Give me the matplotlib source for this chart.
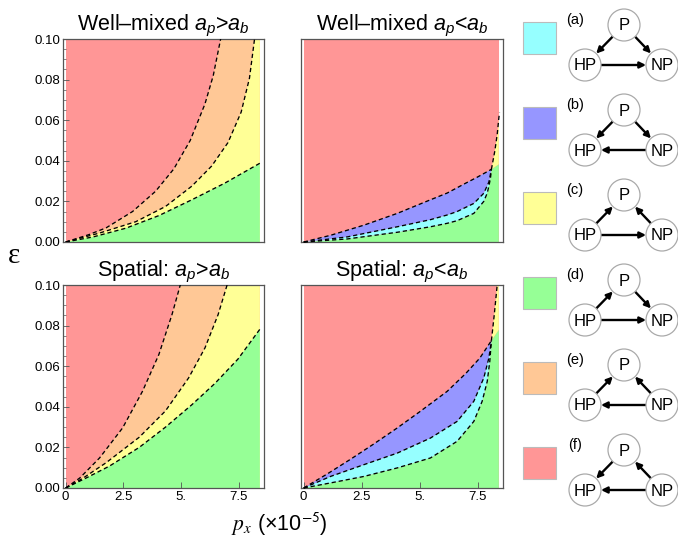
import matplotlib
matplotlib.use('Agg')
import matplotlib.pyplot as plt
import numpy as np
from matplotlib.patches import Rectangle, Circle, FancyArrowPatch, Polygon

plt.rcParams['font.family'] = ['Liberation Sans', 'DejaVu Sans']
plt.rcParams['mathtext.fontset'] = 'custom'
plt.rcParams['mathtext.it'] = 'Liberation Sans:italic'
plt.rcParams['mathtext.rm'] = 'Liberation Sans'
plt.rcParams['mathtext.sf'] = 'Liberation Sans'

# ---------------- data ----------------
PX_MAX = 8.42      # right end of the computed region (x 1e-5)
EPS_MAX = 0.10

colors = {
    'a': '#96FFFF',   # cyan
    'b': '#9696FF',   # blue
    'c': '#FFFF96',   # yellow
    'd': '#96FF96',   # green
    'e': '#FFC896',   # orange
    'f': '#FF9696',   # red
}

titles = ['Well–mixed $a_p$>$a_b$', 'Well–mixed $a_p$<$a_b$',
          'Spatial: $a_p$>$a_b$', 'Spatial: $a_p$<$a_b$']

xticks = [0, 2.5, 5, 7.5]
xticklabels = ['0', '2.5', '5.', '7.5']
yticks = [0.0, 0.02, 0.04, 0.06, 0.08, 0.10]
yticklabels = ['0.00', '0.02', '0.04', '0.06', '0.08', '0.10']

# Well-mixed a_p > a_b : boundaries f|e, e|c, c|d
wm_gt_A_x = [0, 1.0, 1.76, 2.9, 3.9, 4.69, 5.4, 6.04, 6.4, 6.72]
wm_gt_A_y = [0, 0.0036, 0.0070, 0.0150, 0.0250, 0.0360, 0.0500, 0.0680, 0.0820, 0.100]
wm_gt_B_x = [0, 1.5, 3.04, 4.33, 5.47, 6.33, 7.04, 7.61, 7.97, 8.19]
wm_gt_B_y = [0, 0.0045, 0.0100, 0.0175, 0.0275, 0.0374, 0.0490, 0.0640, 0.0807, 0.100]
wm_gt_C_x = [0, 1.19, 2.61, 4.04, 5.47, 6.9, 8.42]
wm_gt_C_y = [0, 0.0025, 0.0068, 0.0130, 0.0208, 0.0290, 0.0388]

# Spatial a_p > a_b
sp_gt_A_x = [0, 0.61, 1.47, 2.47, 3.33, 4.04, 4.61, 4.97]
sp_gt_A_y = [0, 0.0049, 0.0148, 0.0296, 0.0476, 0.0657, 0.0854, 0.100]
sp_gt_B_x = [0, 0.76, 1.76, 3.19, 4.33, 5.33, 6.04, 6.61, 7.0]
sp_gt_B_y = [0, 0.0049, 0.0125, 0.0250, 0.0380, 0.0542, 0.0690, 0.0854, 0.100]
sp_gt_C_x = [0, 0.9, 1.9, 3.19, 4.33, 5.47, 6.47, 7.47, 8.42]
sp_gt_C_y = [0, 0.0050, 0.0108, 0.0200, 0.0300, 0.0410, 0.0515, 0.0635, 0.0782]

# Well-mixed a_p < a_b : upper (f|b), middle (b|a), lower (a|d), steep (f|c), right edge of d
wm_lt_U_x = [0, 1.16, 2.6, 4.04, 5.47, 6.19, 6.91, 7.5, 8.10]
wm_lt_U_y = [0, 0.0033, 0.0083, 0.0141, 0.0208, 0.0241, 0.0285, 0.0320, 0.0358]
wm_lt_M_x = [0, 1.88, 4.04, 5.47, 6.19, 6.62, 7.34, 7.77, 7.99, 8.10]
wm_lt_M_y = [0, 0.0025, 0.0075, 0.0110, 0.0133, 0.0150, 0.0190, 0.0240, 0.0295, 0.0358]
wm_lt_L_x = [0, 1.88, 4.04, 5.47, 6.19, 6.62, 7.34, 7.77, 7.92, 7.99, 8.06, 8.10]
wm_lt_L_y = [0, 0.0015, 0.0048, 0.0075, 0.0092, 0.0105, 0.0141, 0.0200, 0.0241,
             0.0275, 0.0315, 0.0358]
wm_lt_S_x = [8.10, 8.25, 8.35, 8.42, 8.45]
wm_lt_S_y = [0.0358, 0.0450, 0.0530, 0.0610, 0.0637]
wm_lt_edge_y = 0.0383

# Spatial a_p < a_b
sp_lt_U_x = [0, 1.0, 2.0, 3.0, 4.04, 5.0, 6.19, 7.0, 7.6, 8.10]
sp_lt_U_y = [0, 0.0068, 0.0140, 0.0215, 0.0296, 0.0375, 0.0476, 0.0565, 0.0640, 0.0726]
sp_lt_M_x = [0, 1.16, 2.6, 4.04, 5.47, 6.62, 7.34, 7.77, 7.99, 8.10]
sp_lt_M_y = [0, 0.0057, 0.0115, 0.0172, 0.0246, 0.0328, 0.0427, 0.0542, 0.0640, 0.0726]
sp_lt_L_x = [0, 1.16, 2.6, 4.04, 5.47, 6.62, 7.34, 7.70, 7.92, 8.03, 8.10]
sp_lt_L_y = [0, 0.0025, 0.0057, 0.0099, 0.0148, 0.0230, 0.0328, 0.0427, 0.0525,
             0.0624, 0.0726]
sp_lt_S_x = [8.10, 8.22, 8.35]
sp_lt_S_y = [0.0726, 0.0850, 0.1000]
sp_lt_edge_y = 0.0780

# legend diagrams: arrows between nodes P, HP, NP
legend_keys = ['a', 'b', 'c', 'd', 'e', 'f']
legend_edges = {
    'a': [('P', 'HP'), ('P', 'NP'), ('HP', 'NP')],
    'b': [('P', 'HP'), ('P', 'NP'), ('NP', 'HP')],
    'c': [('HP', 'P'), ('NP', 'P'), ('HP', 'NP')],
    'd': [('HP', 'P'), ('P', 'NP'), ('HP', 'NP')],
    'e': [('HP', 'P'), ('NP', 'P'), ('NP', 'HP')],
    'f': [('P', 'HP'), ('NP', 'P'), ('NP', 'HP')],
}

# ---------------- layout ----------------
W, H = 678, 538
fig = plt.figure(figsize=(W / 100, H / 100), dpi=100)


def rect(l, t, r, b):
    return [l / W, 1 - b / H, (r - l) / W, (b - t) / H]


axes_rects = [rect(63, 39, 264, 242), rect(301, 39, 503, 242),
              rect(63, 285, 264, 488), rect(301, 285, 503, 488)]
axs = [fig.add_axes(r) for r in axes_rects]

dash = (0, (3.2, 2.2))
LW = 0.95


def style(ax, i):
    ax.set_xlim(-0.115, 8.6)
    ax.set_ylim(0, EPS_MAX)
    for s in ax.spines.values():
        s.set_color('#555555')
        s.set_linewidth(0.9)
    ax.set_title(titles[i], fontsize=15.5, pad=4)
    ax.tick_params(direction='in', length=4, width=0.6, color='#555555',
                   labelsize=9.5, pad=2)
    ax.tick_params(which='minor', direction='in', length=2, width=0.5, color='#555555')
    if i in (0, 2):
        ax.set_yticks(yticks)
        ax.set_yticklabels(yticklabels)
        ax.set_yticks(np.arange(0, 0.1001, 0.005), minor=True)
    else:
        ax.set_yticks([])
        ax.set_yticks([], minor=True)
    if i in (2, 3):
        ax.set_xticks(xticks)
        ax.set_xticklabels(xticklabels)
    else:
        ax.set_xticks([])


def fill_poly(ax, xs, ys, color):
    ax.add_patch(Polygon(np.column_stack([xs, ys]), closed=True,
                         facecolor=color, edgecolor='none', zorder=1))


def panel_gt(ax, Ax, Ay, Bx, By, Cx, Cy):
    ax.add_patch(Rectangle((0, 0), PX_MAX, EPS_MAX, facecolor=colors['f'],
                           edgecolor='none', zorder=0))
    fill_poly(ax, list(Ax) + [PX_MAX, PX_MAX], list(Ay) + [EPS_MAX, 0], colors['e'])
    fill_poly(ax, list(Bx) + [PX_MAX, PX_MAX], list(By) + [EPS_MAX, 0], colors['c'])
    fill_poly(ax, list(Cx) + [PX_MAX], list(Cy) + [0], colors['d'])
    for x, y in ((Ax, Ay), (Bx, By), (Cx, Cy)):
        ax.plot(x, y, color='black', lw=LW, ls=dash, zorder=3)


def panel_lt(ax, Ux, Uy, Mx, My, Lx, Ly, Sx, Sy, edge_y):
    ax.add_patch(Rectangle((0, 0), PX_MAX, EPS_MAX, facecolor=colors['f'],
                           edgecolor='none', zorder=0))
    fill_poly(ax, list(Lx) + [PX_MAX, PX_MAX], list(Ly) + [edge_y, 0], colors['d'])
    fill_poly(ax, list(Mx) + list(Lx[::-1]), list(My) + list(Ly[::-1]), colors['a'])
    fill_poly(ax, list(Ux) + list(Mx[::-1]), list(Uy) + list(My[::-1]), colors['b'])
    sx = np.array(Sx)
    sy = np.array(Sy)
    keep = sx <= PX_MAX
    yx = list(sx[keep])
    yy = list(sy[keep])
    if yy[-1] >= EPS_MAX - 1e-9:
        yx += [PX_MAX]
        yy += [EPS_MAX]
    fill_poly(ax, yx + [PX_MAX], yy + [edge_y], colors['c'])
    for x, y in ((Ux, Uy), (Mx, My), (Lx, Ly), (Sx, Sy)):
        ax.plot(x, y, color='black', lw=LW, ls=dash, zorder=3, clip_on=False)


panel_gt(axs[0], wm_gt_A_x, wm_gt_A_y, wm_gt_B_x, wm_gt_B_y, wm_gt_C_x, wm_gt_C_y)
panel_lt(axs[1], wm_lt_U_x, wm_lt_U_y, wm_lt_M_x, wm_lt_M_y, wm_lt_L_x, wm_lt_L_y,
         wm_lt_S_x, wm_lt_S_y, wm_lt_edge_y)
panel_gt(axs[2], sp_gt_A_x, sp_gt_A_y, sp_gt_B_x, sp_gt_B_y, sp_gt_C_x, sp_gt_C_y)
panel_lt(axs[3], sp_lt_U_x, sp_lt_U_y, sp_lt_M_x, sp_lt_M_y, sp_lt_L_x, sp_lt_L_y,
         sp_lt_S_x, sp_lt_S_y, sp_lt_edge_y)
for i, ax in enumerate(axs):
    style(ax, i)

# axis labels
fig.text(14 / W, 1 - 256 / H, 'ε', family='Liberation Serif', fontsize=21,
         ha='center', va='center')
fig.text(279 / W, 1 - 524 / H, r'$p_x$ (×10$^{\mathsf{-5}}$)', math_fontfamily='stix',
         fontsize=15.5, ha='center', va='center')

# ---------------- legend with diagrams ----------------
ov = fig.add_axes([0, 0, 1, 1], zorder=5)
ov.set_xlim(0, W)
ov.set_ylim(H, 0)
ov.axis('off')
ov.patch.set_alpha(0)

R = 16
for k, key in enumerate(legend_keys):
    y0 = 85 * k
    ov.add_patch(Rectangle((523, 22 + y0), 33, 32, facecolor=colors[key],
                           edgecolor='#bbbbbb', lw=0.8))
    ov.text(575, 20 + y0, f'({key})', fontsize=10.5, ha='center', va='center')
    nodes = {'P': (624, 25 + y0), 'HP': (585, 65 + y0), 'NP': (662, 65 + y0)}
    for a, b in legend_edges[key]:
        p = np.array(nodes[a], float)
        q = np.array(nodes[b], float)
        u = (q - p) / np.hypot(*(q - p))
        s = p + u * R
        e = q - u * R
        ov.add_patch(FancyArrowPatch(tuple(s), tuple(e), arrowstyle='-|>',
                                     mutation_scale=9, lw=1.7, color='black',
                                     shrinkA=0, shrinkB=0))
    for name, (cx, cy) in nodes.items():
        ov.add_patch(Circle((cx, cy), R, facecolor='white', edgecolor='#aaaaaa',
                            lw=0.9, zorder=3))
        ov.text(cx, cy + 1, name, fontsize=12, ha='center', va='center', zorder=4)

fig.savefig('out.png', dpi=100)
